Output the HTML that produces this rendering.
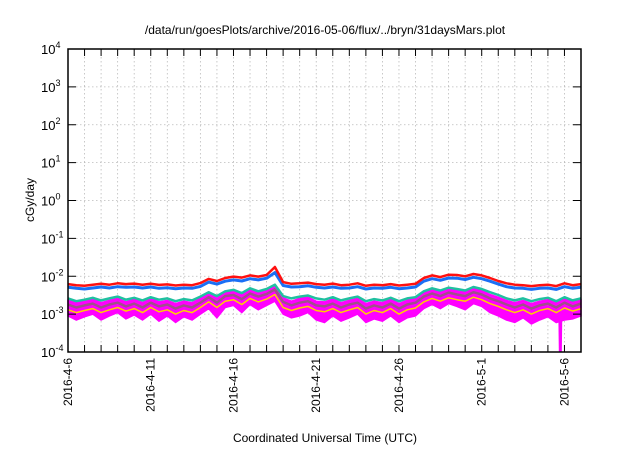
<!DOCTYPE html>
<html><head><meta charset="utf-8"><style>
body{margin:0;background:#fff}
text{font-family:"Liberation Sans",sans-serif;fill:#000}
</style></head><body>
<svg id="chart" width="640" height="448" viewBox="0 0 640 448" xmlns="http://www.w3.org/2000/svg">
<text x="325" y="34" font-size="12" text-anchor="middle">/data/run/goesPlots/archive/2016-05-06/flux/../bryn/31daysMars.plot</text>
<text x="0" y="0" font-size="12" text-anchor="middle" transform="translate(34,200) rotate(-90)">cGy/day</text>
<text x="325" y="442" font-size="12" text-anchor="middle">Coordinated Universal Time (UTC)</text>
<g id="grid"></g><g id="series"></g><g id="axes"></g>
</svg>
<script>
const tickExps=[4,3,2,1,0,-1,-2,-3,-4];
const dateLabels=["2016-4-6","2016-4-11","2016-4-16","2016-4-21","2016-4-26","2016-5-1","2016-5-6"];
const red=[6.2,5.8,5.6,6.0,6.3,6.0,6.5,6.2,6.4,6.0,6.3,5.9,6.1,5.7,6.0,5.8,6.6,8.5,7.5,9.0,9.8,9.2,10.5,9.8,10.8,17.5,7.0,6.3,6.5,6.8,6.2,6.0,6.4,5.8,6.0,6.5,5.6,6.0,5.8,6.2,5.7,6.0,6.3,9.0,10.5,9.5,11.0,10.8,10.0,11.5,10.5,9.0,7.5,6.5,6.0,5.8,5.5,5.8,6.0,5.5,6.5,5.8,6.2];
const blue=[5.1,4.8,4.6,4.9,5.2,4.9,5.3,5.1,5.2,4.9,5.2,4.8,5.0,4.7,4.9,4.8,5.4,7.0,6.2,7.4,8.0,7.5,8.6,8.0,8.9,12.5,5.7,5.2,5.3,5.6,5.1,4.9,5.2,4.8,4.9,5.3,4.6,4.9,4.8,5.1,4.7,4.9,5.2,7.4,8.6,7.8,9.0,8.9,8.2,9.4,8.6,7.4,6.2,5.3,4.9,4.8,4.5,4.8,4.9,4.5,5.3,4.8,5.1];
const teal=[2.6,2.2,2.4,2.7,2.3,2.6,2.9,2.4,2.7,2.3,2.8,2.4,2.6,2.2,2.5,2.3,2.9,3.8,3.0,4.0,4.4,3.6,4.8,4.0,4.6,6.0,3.0,2.6,2.9,3.1,2.6,2.4,2.8,2.3,2.6,2.9,2.2,2.5,2.3,2.7,2.2,2.6,2.8,4.0,4.8,4.2,5.0,4.6,4.2,5.2,4.6,3.8,3.2,2.6,2.3,2.6,2.2,2.5,2.7,2.2,2.8,2.3,2.6];
const purple=[1.8,1.5,1.7,1.9,1.5,1.8,2.0,1.6,1.9,1.5,2.0,1.6,1.8,1.4,1.7,1.5,2.0,2.8,2.0,3.0,3.2,2.5,3.5,2.9,3.4,4.5,2.1,1.7,2.0,2.2,1.7,1.6,1.9,1.5,1.8,2.0,1.4,1.7,1.5,1.9,1.4,1.8,2.0,2.9,3.5,3.0,3.7,3.3,3.0,3.8,3.3,2.6,2.2,1.8,1.5,1.8,1.4,1.7,1.9,1.5,2.0,1.6,1.9];
const yellow=[1.3,1.1,1.25,1.4,1.1,1.3,1.5,1.2,1.4,1.1,1.5,1.15,1.3,1.0,1.25,1.1,1.5,2.1,1.5,2.2,2.4,1.8,2.6,2.1,2.5,3.3,1.5,1.25,1.45,1.6,1.25,1.15,1.4,1.1,1.3,1.5,1.0,1.25,1.1,1.4,1.0,1.3,1.45,2.1,2.6,2.2,2.7,2.4,2.2,2.8,2.4,1.9,1.6,1.3,1.1,1.3,1.0,1.25,1.4,1.1,1.45,1.2,1.4];
const magentaHigh=[2.3,2.0,2.2,2.5,2.0,2.3,2.6,2.1,2.5,2.0,2.6,2.1,2.3,1.9,2.2,2.0,2.6,3.6,2.6,3.8,4.1,3.2,4.4,3.7,4.3,5.5,2.7,2.2,2.6,2.8,2.2,2.1,2.5,2.0,2.3,2.6,1.9,2.2,2.0,2.5,1.9,2.3,2.6,3.7,4.4,3.8,4.7,4.2,3.8,4.8,4.2,3.3,2.8,2.3,2.0,2.3,1.9,2.2,2.4,2.0,2.5,2.1,2.4];
const magentaLow=[0.9,0.7,0.85,1.0,0.7,0.9,1.1,0.75,0.95,0.7,1.0,0.65,0.9,0.6,0.85,0.7,1.0,1.4,0.8,1.5,1.7,1.1,1.8,1.3,1.7,2.2,1.0,0.8,0.9,1.1,0.7,0.6,0.9,0.65,0.8,1.0,0.6,0.75,0.65,0.9,0.6,0.8,0.9,1.4,1.8,1.4,1.9,1.6,1.3,1.9,1.6,1.1,0.9,0.7,0.6,0.8,0.55,0.7,0.85,0.6,0.7,0.75,0.9];
const dipDay=[29.75];
const dipValue=[0.05];
const UNIT=1e-3, DAYS_PER_SAMPLE=0.5, TOTAL_DAYS=31;
const L=68,R=581,T=49,B=352;
const NS="http://www.w3.org/2000/svg";
function xDay(d){return L+(R-L)*d/TOTAL_DAYS;}
function yVal(v){const lv=Math.log10(Math.max(v,1e-6));return T+(4-lv)*(B-T)/8;}
function clipY(y){return Math.min(B,Math.max(T,y));}
function mk(tag,attrs,parent){const e=document.createElementNS(NS,tag);for(const k in attrs)e.setAttribute(k,attrs[k]);parent.appendChild(e);return e;}
const grid=document.getElementById('grid'),ser=document.getElementById('series'),axes=document.getElementById('axes');
for(let d=1;d<TOTAL_DAYS;d++){const x=xDay(d);
 const g=mk('line',{x1:x,x2:x,y1:T,y2:B,stroke:'#bbb','stroke-width':0.8,'stroke-dasharray':'1.5,2.5'},grid);
 
 
 const t1=mk('line',{x1:x,x2:x,y1:B,y2:B-7,stroke:'#000','stroke-width':1},axes);
 
 
 const t2=mk('line',{x1:x,x2:x,y1:T,y2:T+7,stroke:'#000','stroke-width':1},axes);
 
 }
tickExps.forEach(e=>{const y=yVal(Math.pow(10,e));
 if(e<4&&e>-4){const g=mk('line',{x1:L,x2:R,y1:y,y2:y,stroke:'#bbb','stroke-width':0.8,'stroke-dasharray':'1.5,2.5'},grid);
 
 
 mk('line',{x1:L,x2:L+8,y1:y,y2:y,stroke:'#000'},axes);mk('line',{x1:R,x2:R-8,y1:y,y2:y,stroke:'#000'},axes);}
 const t=mk('text',{x:41,y:y+5,'font-size':13,'text-anchor':'start'},axes);
 
 
 t.textContent='10';
 const s=mk('tspan',{'font-size':9,dy:-6},t);s.textContent=String(e);});
dateLabels.forEach((lab,i)=>{const x=xDay(i*5);
 const t=mk('text',{'font-size':12,'text-anchor':'end',transform:`translate(${x+4},358) rotate(-90)`},axes);
 
 
 t.textContent=lab;});
function pts(arr){return arr.map((v,i)=>xDay(i*DAYS_PER_SAMPLE).toFixed(1)+','+clipY(yVal(v*UNIT)).toFixed(1));}
const band=mk('polygon',{points:pts(magentaHigh).concat(pts(magentaLow).reverse()).join(' '),fill:'#ff00ff',stroke:'#ff00ff','stroke-width':1.5},ser);


dipDay.forEach((d,i)=>{const x=xDay(d);
 const dl=mk('polygon',{points:`${x-2},${yVal(1e-3)} ${x+2},${yVal(1e-3)} ${x+1.5},${clipY(yVal(dipValue[i]*UNIT))} ${x-1.5},${clipY(yVal(dipValue[i]*UNIT))}`,fill:'#ff00ff'},ser);
 
 });
[[yellow,'#ffd000',1.5,'yellow-series'],[purple,'#a0508a',2.5,'purple-series'],[teal,'#20c0a0',2.5,'teal-series'],[blue,'#1a6ff5',3,'blue-series'],[red,'#ff1010',2.5,'red-series']].forEach(([arr,c,w,n])=>{
 const p=mk('polyline',{points:pts(arr).join(' '),fill:'none',stroke:c,'stroke-width':w,'stroke-linejoin':'round'},ser);
 
 });
const frame=mk('rect',{x:L,y:T,width:R-L,height:B-T,fill:'none',stroke:'#000','stroke-width':1.5},axes);


</script>
</body></html>
